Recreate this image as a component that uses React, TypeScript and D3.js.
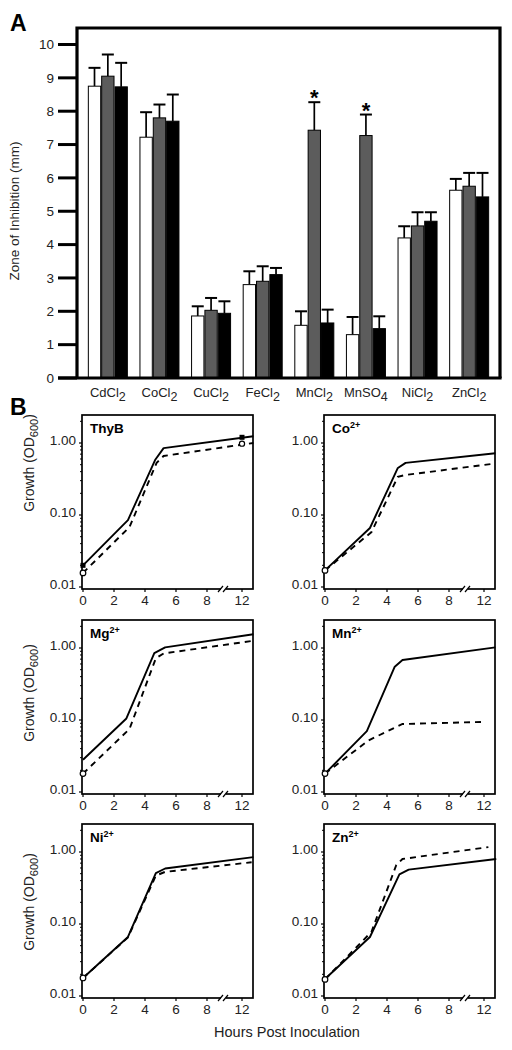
import React from 'react';
import * as d3 from 'd3';

// ---------- Panel A data ----------
const categories = ['CdCl', 'CoCl', 'CuCl', 'FeCl', 'MnCl', 'MnSO', 'NiCl', 'ZnCl'];
const categorySubs = ['2', '2', '2', '2', '2', '4', '2', '2'];
const whiteVals = [8.75, 7.22, 1.86, 2.8, 1.58, 1.3, 4.2, 5.63];
const grayVals = [9.05, 7.8, 2.03, 2.9, 7.43, 7.27, 4.56, 5.75];
const blackVals = [8.73, 7.7, 1.94, 3.1, 1.65, 1.48, 4.7, 5.43];
const whiteErr = [0.55, 0.75, 0.29, 0.4, 0.42, 0.53, 0.35, 0.34];
const grayErr = [0.65, 0.4, 0.37, 0.45, 0.84, 0.63, 0.41, 0.4];
const blackErr = [0.72, 0.8, 0.36, 0.2, 0.4, 0.37, 0.27, 0.72];
const starCategories = ['MnCl', 'MnSO'];
const yTicksA = [0, 1, 2, 3, 4, 5, 6, 7, 8, 9, 10];

// ---------- Panel B data ----------
const panelTitles = ['ThyB', 'Co', 'Mg', 'Mn', 'Ni', 'Zn'];
const panelSups = ['', '2+', '2+', '2+', '2+', '2+'];

const thybSolidH = [0, 2.9, 4.65, 5.2, 13.3];
const thybSolidOD = [0.02, 0.085, 0.58, 0.85, 1.24];
const thybDashH = [0, 3, 4.75, 5.2, 13.3];
const thybDashOD = [0.0157, 0.068, 0.53, 0.66, 1.0];

const coSolidH = [0, 2.9, 4.7, 5.2, 13.3];
const coSolidOD = [0.017, 0.066, 0.45, 0.53, 0.72];
const coDashH = [0, 3, 4.7, 5.2, 13.3];
const coDashOD = [0.017, 0.058, 0.34, 0.36, 0.52];

const mgSolidH = [0, 2.8, 4.6, 5.3, 13.3];
const mgSolidOD = [0.028, 0.105, 0.85, 1.02, 1.55];
const mgDashH = [0, 3, 4.7, 5.2, 13.1];
const mgDashOD = [0.018, 0.075, 0.72, 0.84, 1.25];

const mnSolidH = [0, 2.7, 4.5, 5.0, 13.3];
const mnSolidOD = [0.018, 0.07, 0.55, 0.68, 1.02];
const mnDashH = [0, 2.8, 4.6, 5.0, 11.9];
const mnDashOD = [0.018, 0.052, 0.08, 0.088, 0.094];

const niSolidH = [0, 2.9, 4.7, 5.3, 13.3];
const niSolidOD = [0.0178, 0.066, 0.51, 0.59, 0.85];
const niDashH = [0, 2.9, 4.7, 5.3, 13.1];
const niDashOD = [0.0178, 0.065, 0.47, 0.53, 0.72];

const znSolidH = [0, 2.9, 4.8, 5.4, 13.4];
const znSolidOD = [0.0172, 0.066, 0.49, 0.57, 0.8];
const znDashH = [0, 3, 4.6, 5.0, 12.5];
const znDashOD = [0.017, 0.078, 0.66, 0.8, 1.17];

const thybEndH = 12;
const thybEndSolidOD = 1.2;
const thybEndDashOD = 0.98;

const xTicksB = [0, 2, 4, 6, 8, 12];
const yTicksB = [0.01, 0.1, 1];
const yTickLabelsB = ['0.01', '0.10', '1.00'];

const FONT = "'Liberation Sans', Arial, Helvetica, sans-serif";

export default function App() {
  // ---------- Panel A ----------
  const aLeft = 77, aRight = 500, aTop = 28, aBottom = 378;
  const yA = d3.scaleLinear().domain([0, 10]).range([aBottom, 44.5]);
  const xA = d3.scaleBand<string>().domain(categories).range([aLeft, aRight]).paddingInner(0.225).paddingOuter(0.21);
  const xSub = d3.scaleBand<number>().domain([0, 1, 2]).range([0, xA.bandwidth()]);
  const seriesVals = [whiteVals, grayVals, blackVals];
  const seriesErr = [whiteErr, grayErr, blackErr];
  const fills = ['#ffffff', '#5c5c5c', '#000000'];

  const barsA: React.ReactNode[] = [];
  categories.forEach((c, i) => {
    const gx = xA(c)!;
    [0, 1, 2].forEach((s) => {
      const v = seriesVals[s][i];
      const e = seriesErr[s][i];
      const x = gx + xSub(s)!;
      const w = xSub.bandwidth();
      const cx = x + w / 2;
      barsA.push(
        <g key={`b${i}-${s}`}>
          <line x1={cx} x2={cx} y1={yA(v)} y2={yA(v + e)} stroke="#000" strokeWidth={1.7} />
          <line x1={cx - 6} x2={cx + 6} y1={yA(v + e)} y2={yA(v + e)} stroke="#000" strokeWidth={2} />
          <rect x={x + 0.5} y={yA(v)} width={w - 1} height={aBottom - yA(v)} fill={fills[s]} stroke="#000" strokeWidth={1} />
        </g>
      );
      if (s === 1 && starCategories.includes(c)) {
        barsA.push(
          <text key={`s${i}`} x={cx} y={yA(v + e) + 3} textAnchor="middle" fontSize={22} fontWeight="bold" fontFamily={FONT}>*</text>
        );
      }
    });
  });

  // ---------- Panel B ----------
  const panels = [
    { sH: thybSolidH, sO: thybSolidOD, dH: thybDashH, dO: thybDashOD },
    { sH: coSolidH, sO: coSolidOD, dH: coDashH, dO: coDashOD },
    { sH: mgSolidH, sO: mgSolidOD, dH: mgDashH, dO: mgDashOD },
    { sH: mnSolidH, sO: mnSolidOD, dH: mnDashH, dO: mnDashOD },
    { sH: niSolidH, sO: niSolidOD, dH: niDashH, dO: niDashOD },
    { sH: znSolidH, sO: znSolidOD, dH: znDashH, dO: znDashOD },
  ];
  const colX = [82, 324];
  const rowY = [415, 620, 824];
  const pW = 171, pH = 174;
  const growthLabelY = [463, 693, 902];

  const panelNodes = panels.map((p, idx) => {
    const col = idx % 2, row = Math.floor(idx / 2);
    const x0 = colX[col], y0 = rowY[row];
    const xs = d3.scaleLinear().domain([0, 8, 12]).range([x0 + 1, x0 + 125, x0 + 160]);
    const ys = d3.scaleLog().domain([0.01, 1]).range([y0 + 172, y0 + 28]);
    const line = d3.line<[number, number]>().x((d) => xs(d[0])).y((d) => ys(d[1]));
    const solidPts = p.sH.map((h, k) => [h, p.sO[k]] as [number, number]);
    const dashPts = p.dH.map((h, k) => [h, p.dO[k]] as [number, number]);
    const minor: number[] = [];
    [0.01, 0.1, 1].forEach((dec) => {
      for (let m = 2; m <= 9; m++) {
        const v = dec * m;
        if (ys(v) >= y0 + 2) minor.push(v);
      }
    });
    const breakX = x0 + 142;
    const by = y0 + pH;
    return (
      <g key={`p${idx}`}>
        <rect x={x0} y={y0} width={pW} height={pH} fill="none" stroke="#000" strokeWidth={1.7} />
        {yTicksB.map((t, k) => (
          <g key={`yt${k}`}>
            <line x1={x0 - 3} x2={x0} y1={ys(t)} y2={ys(t)} stroke="#000" strokeWidth={1.2} />
            <text x={x0 - 6} y={ys(t) + 1.5} textAnchor="end" fontSize={13.5} fontFamily={FONT} fill="#222">{yTickLabelsB[k]}</text>
          </g>
        ))}
        {minor.map((v, k) => (
          <line key={`mt${k}`} x1={x0 - 2} x2={x0} y1={ys(v)} y2={ys(v)} stroke="#000" strokeWidth={1} />
        ))}
        {xTicksB.map((t) => (
          <g key={`xt${t}`}>
            <line x1={xs(t)} x2={xs(t)} y1={by} y2={by + 3} stroke="#000" strokeWidth={1.2} />
            <text x={xs(t)} y={by + 16} textAnchor="middle" fontSize={13.5} fontFamily={FONT} fill="#222">{t}</text>
          </g>
        ))}
        <rect x={breakX - 3} y={by - 2} width={5} height={4} fill="#fff" />
        <line x1={breakX - 6} x2={breakX - 1} y1={by + 3} y2={by - 3} stroke="#000" strokeWidth={1.2} />
        <line x1={breakX - 1} x2={breakX + 4} y1={by + 3} y2={by - 3} stroke="#000" strokeWidth={1.2} />
        <path d={line(solidPts)!} fill="none" stroke="#000" strokeWidth={1.9} strokeLinejoin="round" />
        <path d={line(dashPts)!} fill="none" stroke="#000" strokeWidth={1.9} strokeDasharray="6,5" />
        <circle cx={xs(p.dH[0])} cy={ys(p.dO[0])} r={2.8} fill="#fff" stroke="#000" strokeWidth={1.2} />
        {idx === 0 && (
          <g>
            <rect x={xs(p.sH[0]) - 2.5} y={ys(p.sO[0]) - 2.5} width={5} height={5} fill="#000" />
            <rect x={xs(thybEndH) - 2.5} y={ys(thybEndSolidOD) - 2.5} width={5} height={5} fill="#000" />
            <circle cx={xs(thybEndH)} cy={ys(thybEndDashOD)} r={2.6} fill="#fff" stroke="#000" strokeWidth={1.2} />
          </g>
        )}
        <text x={x0 + 8} y={y0 + 18} fontSize={13.5} fontWeight="bold" fontFamily={FONT}>
          {panelTitles[idx]}
          {panelSups[idx] && <tspan dy={-5} fontSize={9}>{panelSups[idx]}</tspan>}
        </text>
        {col === 0 && (
          <text transform={`translate(34,${growthLabelY[row]}) rotate(-90)`} textAnchor="middle" fontSize={14} fontFamily={FONT} fill="#222">
            Growth (OD<tspan dy={4} fontSize={11}>600</tspan><tspan dy={-4}>)</tspan>
          </text>
        )}
      </g>
    );
  });

  return (
    <svg width={512} height={1050} style={{ position: 'absolute', left: 0, top: 0, background: '#fff' }} fontFamily={FONT}>
      <rect x={0} y={0} width={512} height={1050} fill="#fff" />
      <text x={10} y={31} fontSize={23} fontWeight="bold" fontFamily={FONT}>A</text>
      {barsA}
      <path d={`M${aLeft},${aBottom} L${aLeft},${aTop} L${aRight},${aTop} L${aRight},${aBottom}`} fill="none" stroke="#000" strokeWidth={3.2} />
      <line x1={58} x2={aRight + 1.6} y1={aBottom} y2={aBottom} stroke="#000" strokeWidth={3.2} />
      {yTicksA.map((t) => (
        <g key={`ya${t}`}>
          <line x1={58} x2={aLeft} y1={yA(t)} y2={yA(t)} stroke="#000" strokeWidth={3} />
          <text x={54} y={yA(t) + 4.8} textAnchor="end" fontSize={13.5} fontFamily={FONT} fill="#222">{t}</text>
        </g>
      ))}
      <text transform={`translate(19,${211}) rotate(-90)`} textAnchor="middle" fontSize={13.5} fontFamily={FONT} fill="#222">Zone of Inhibition (mm)</text>
      {categories.map((c, i) => (
        <text key={`cl${i}`} x={xA(c)! + xA.bandwidth() / 2} y={397} textAnchor="middle" fontSize={13} fontFamily={FONT} fill="#222">
          {c}<tspan dy={4} fontSize={12.5}>{categorySubs[i]}</tspan>
        </text>
      ))}
      <text x={10} y={415} fontSize={23} fontWeight="bold" fontFamily={FONT}>B</text>
      {panelNodes}
      <text x={287} y={1037} textAnchor="middle" fontSize={14.5} fontFamily={FONT} fill="#222">Hours Post Inoculation</text>
    </svg>
  );
}
